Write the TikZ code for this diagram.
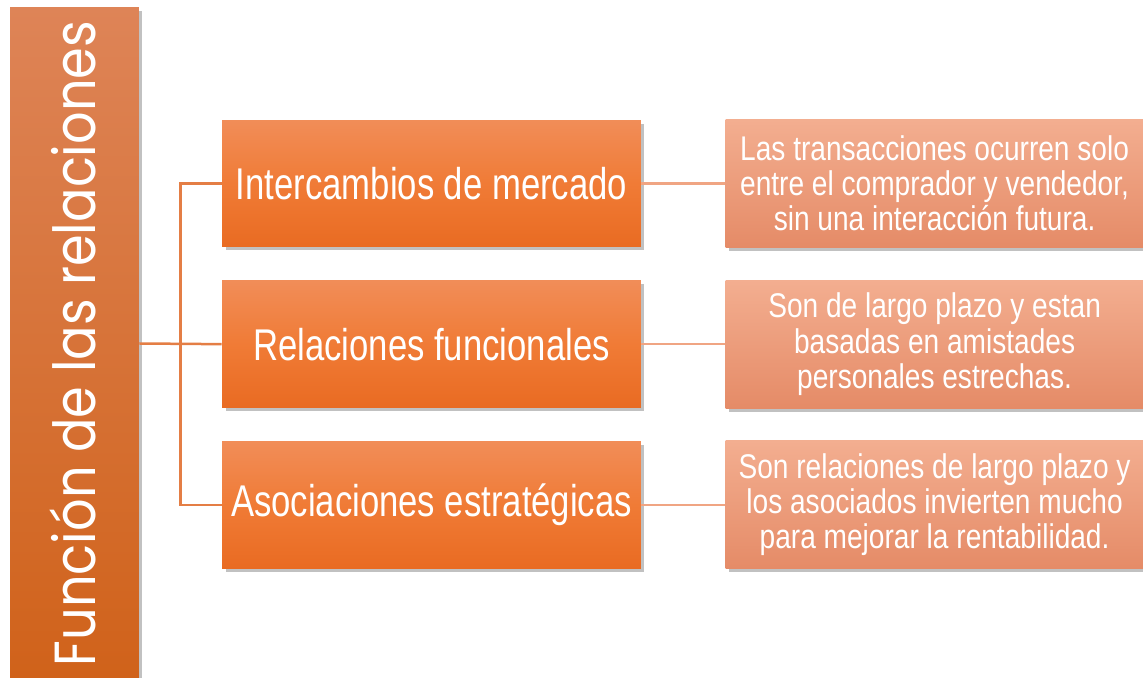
\documentclass[tikz,border=0pt]{standalone}
\usepackage{fontspec}
\setmainfont{Liberation Sans}
\newfontfamily\titlefont[FakeStretch=0.88]{Poppins}
\newfontfamily\midfont[FakeStretch=0.78]{Liberation Sans}
\newfontfamily\descfont[FakeStretch=0.82]{Liberation Sans}
\usetikzlibrary{positioning,shadows,calc}

\definecolor{titletop}{HTML}{DE8457}
\definecolor{titlebot}{HTML}{D0621A}
\definecolor{midtop}{HTML}{F18D58}
\definecolor{midmid}{HTML}{F07B36}
\definecolor{midbot}{HTML}{E96B22}
\definecolor{desctop}{HTML}{F3AE90}
\definecolor{descbot}{HTML}{E58B67}
\definecolor{treeline}{HTML}{E47E45}
\definecolor{descline}{HTML}{F0A583}

\begin{document}
\begin{tikzpicture}[x=0.02cm, y=-0.02cm,
    boxshadow/.style={drop shadow={shadow xshift=0.07cm, shadow yshift=-0.07cm, opacity=0.35, fill=black!70}},
    titlebox/.style={boxshadow, top color=titletop, bottom color=titlebot, minimum width=2.58cm, minimum height=13.46cm, inner sep=0pt},
    midbox/.style={boxshadow, top color=midtop, bottom color=midbot, middle color=midmid, minimum width=8.38cm, minimum height=2.54cm, inner sep=0pt, text=white, font=\midfont\fontsize{25.3}{28}\selectfont},
    descbox/.style={boxshadow, top color=desctop, bottom color=descbot, minimum width=8.36cm, minimum height=2.56cm, inner sep=0pt, align=center, text=white, font=\descfont\fontsize{19.5}{20}\selectfont},
    treelink/.style={treeline, line width=0.05cm},
    desclink/.style={descline, line width=0.05cm}]
    \useasboundingbox (0,0) rectangle (1143,678);

    % Title column
    \node[titlebox] (title) at (74.5,343.5) {};
    \node[rotate=90, text=white, font=\titlefont\fontsize{33}{36}\selectfont] (titletext) at ([xshift=-0.04cm]title.center) {Función de las relaciones};

    % Relation types
    \node[midbox] (mkt) at (431.5,183.5) {Intercambios de mercado};
    \node[midbox, below=0.66cm of mkt] (fun) {Relaciones funcionales};
    \node[midbox, below=0.66cm of fun] (est) {Asociaciones estratégicas};

    % Descriptions
    \node[descbox, right=1.68cm of mkt] (mktdesc) {Las transacciones ocurren solo\\entre el comprador y vendedor,\\sin una interacción futura.};
    \node[descbox, right=1.68cm of fun] (fundesc) {Son de largo plazo y estan\\basadas en amistades\\personales estrechas.};
    \node[descbox, right=1.68cm of est] (estdesc) {Son relaciones de largo plazo y\\los asociados invierten mucho\\para mejorar la rentabilidad.};

    % Tree connectors
    \coordinate (trunk) at ($(title.east)!0.5!(fun.west)$);
    \draw[treelink] (title.east) -- (fun.west);
    \draw[treelink] (mkt.west) -| (trunk) |- (est.west);

    \draw[desclink] (mkt.east) -- (mktdesc.west);
    \draw[desclink] (fun.east) -- (fundesc.west);
    \draw[desclink] (est.east) -- (estdesc.west);
\end{tikzpicture}
\end{document}
